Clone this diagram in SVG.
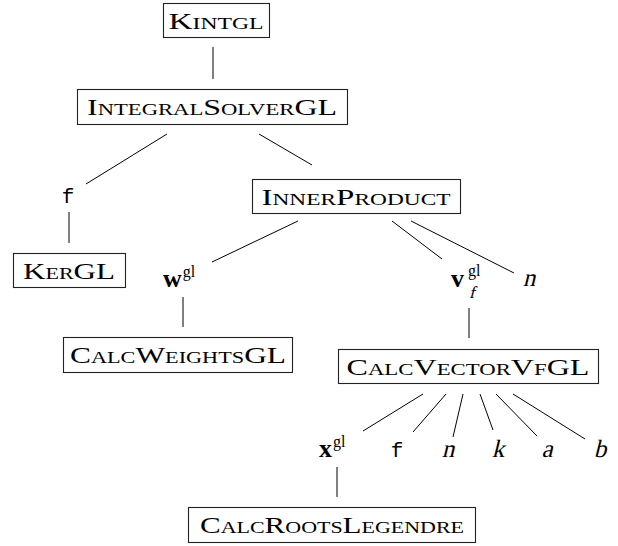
<svg xmlns="http://www.w3.org/2000/svg" width="618" height="546" viewBox="0 0 618 546">
<style>
.box{fill:#fff;stroke:#222;stroke-width:1.1}
.sc{font-family:"Liberation Serif",serif;font-size:24px;font-variant:small-caps;fill:#000;text-anchor:middle}
.e{stroke:#000;stroke-width:1;fill:none}
.tt{font-family:"Liberation Mono",monospace;font-size:21px;fill:#000;text-anchor:middle}
.mi{font-family:"Liberation Serif",serif;font-size:25px;fill:#000;text-anchor:middle}
.bf{font-family:"Liberation Serif",serif;font-size:26px;font-weight:bold;fill:#000}
.sup{font-family:"Liberation Serif",serif;font-size:16px;fill:#000}
.sub{font-family:"Liberation Serif",serif;font-size:17px;fill:#000}
</style>
<g id="connectors">
<line class="e" x1="213" y1="47" x2="213" y2="79"/>
<line class="e" x1="167" y1="134" x2="86" y2="184"/>
<line class="e" x1="259" y1="134" x2="312" y2="165"/>
<line class="e" x1="69" y1="212" x2="69" y2="243"/>
<line class="e" x1="298" y1="221" x2="212" y2="262"/>
<line class="e" x1="392" y1="221" x2="442" y2="259"/>
<line class="e" x1="411" y1="221" x2="514" y2="273"/>
<line class="e" x1="183" y1="297" x2="183" y2="327"/>
<line class="e" x1="469" y1="308" x2="469" y2="338"/>
<line class="e" x1="423" y1="394" x2="363" y2="431"/>
<line class="e" x1="446" y1="394" x2="413" y2="432"/>
<line class="e" x1="463" y1="394" x2="453" y2="437"/>
<line class="e" x1="480" y1="394" x2="493" y2="430"/>
<line class="e" x1="496" y1="394" x2="537" y2="436"/>
<line class="e" x1="513" y1="394" x2="585" y2="439"/>
<line class="e" x1="337" y1="467" x2="337" y2="497"/>
</g>
<g id="kintgl">
<rect class="box" x="163.5" y="3.5" width="106" height="34"/>
<text class="sc" x="216" y="29" textLength="95" lengthAdjust="spacingAndGlyphs">Kintgl</text>
</g>
<g id="integralsolvergl">
<rect class="box" x="77.5" y="89.5" width="270" height="35"/>
<text class="sc" x="212" y="115" textLength="250" lengthAdjust="spacingAndGlyphs">IntegralSolverGL</text>
</g>
<g id="f1">
<text class="tt" x="68" y="203">f</text>
</g>
<g id="kergl">
<rect class="box" x="13.5" y="253.5" width="112" height="34"/>
<text class="sc" x="69" y="279" textLength="92" lengthAdjust="spacingAndGlyphs">KerGL</text>
</g>
<g id="innerproduct">
<rect class="box" x="252.5" y="179.5" width="208" height="34"/>
<text class="sc" x="356" y="205" textLength="189" lengthAdjust="spacingAndGlyphs">InnerProduct</text>
</g>
<g id="wgl">
<text x="163" y="287"><tspan class="bf">w</tspan><tspan class="sup" dx="1" dy="-10">gl</tspan></text>
</g>
<g id="calcweightsgl">
<rect class="box" x="63.5" y="337.5" width="229" height="35"/>
<text class="sc" x="178" y="363" textLength="216" lengthAdjust="spacingAndGlyphs">CalcWeightsGL</text>
</g>
<g id="vfgl">
<text class="bf" x="451" y="287">v</text>
<text class="sup" x="468" y="276">gl</text>
<text class="sub" transform="translate(469,298) skewX(-14)" x="0" y="0">f</text>
</g>
<g id="n1">
<text class="mi" transform="translate(529,286) skewX(-14)" x="0" y="0">n</text>
</g>
<g id="calcvectorvfgl">
<rect class="box" x="338.5" y="349.5" width="260" height="34"/>
<text class="sc" x="468" y="375" textLength="243" lengthAdjust="spacingAndGlyphs">CalcVectorVfGL</text>
</g>
<g id="xgl">
<text x="319" y="457"><tspan class="bf">x</tspan><tspan class="sup" dx="1" dy="-10">gl</tspan></text>
</g>
<g id="f2"><text class="tt" x="397" y="457">f</text></g>
<g id="n2"><text class="mi" transform="translate(448,457) skewX(-14)" x="0" y="0">n</text></g>
<g id="k"><text class="mi" transform="translate(498,457) skewX(-14)" x="0" y="0">k</text></g>
<g id="a"><text class="mi" transform="translate(547,457) skewX(-14)" x="0" y="0">a</text></g>
<g id="b"><text class="mi" transform="translate(600,457) skewX(-14)" x="0" y="0">b</text></g>
<g id="calcrootslegendre">
<rect class="box" x="188.5" y="507.5" width="287" height="35"/>
<text class="sc" x="332" y="533" textLength="264" lengthAdjust="spacingAndGlyphs">CalcRootsLegendre</text>
</g>
</svg>
